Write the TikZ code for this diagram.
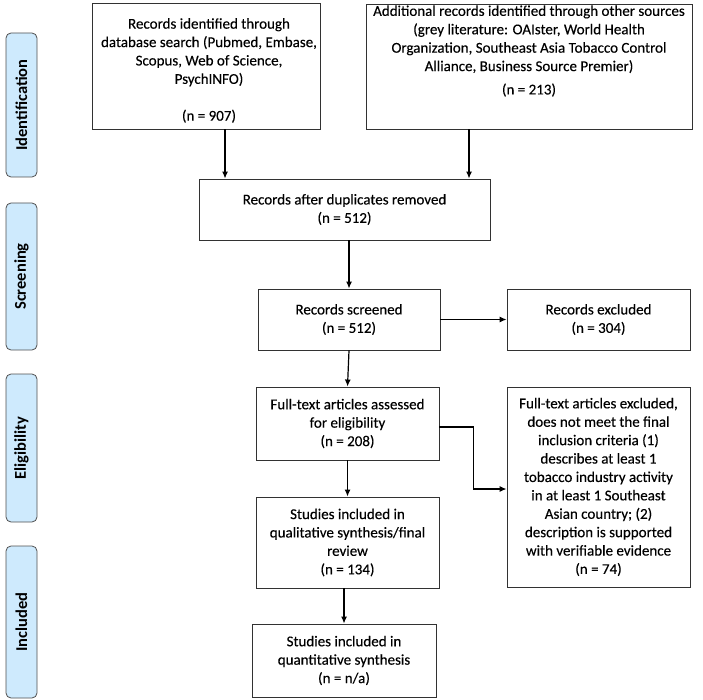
\documentclass[tikz,border=0pt]{standalone}
\usepackage{fontspec}
\setmainfont{Carlito}
\newfontfamily\boxfont{Carlito}[FakeBold=0.25]
\usetikzlibrary{arrows.meta,positioning,calc}
\definecolor{sidefill}{RGB}{206,234,253}
\definecolor{sidedraw}{RGB}{80,80,80}
\definecolor{boxdraw}{RGB}{50,50,50}
\begin{document}
\begin{tikzpicture}[x=1pt,y=-1pt,
  box/.style={draw=boxdraw,line width=0.9pt,rectangle,inner sep=0pt,align=center,
    font=\boxfont\fontsize{15}{18.4}\selectfont},
  txt/.style={inner sep=0pt,align=center,font=\boxfont\fontsize{15}{18.4}\selectfont},
  side/.style={draw=sidedraw,fill=sidefill,line width=0.8pt,rounded corners=5pt,
    rotate=90,minimum height=31pt,inner sep=0pt,font=\fontsize{16.5}{18}\selectfont\bfseries},
  arr/.style={line width=1.2pt,-{Latex[length=7pt,width=6pt]}}]
\useasboundingbox (0,0) rectangle (703,700);

% side labels
\node[side,minimum width=144pt] (sid) at (21.5,105) {Identification};
\node[side,minimum width=147pt] (ssc) at (21.5,276.5) {Screening};
\node[side,minimum width=148pt] (sel) at (21.5,448) {Eligibility};
\node[side,minimum width=152pt] (sin) at (21.5,622) {Included};

% boxes
\node[box,minimum width=228pt,minimum height=126pt] (b1) at (206,66) {};
\node[txt] (t1) at (209,70.5) {Records identified through\\database search (Pubmed, Embase,\\Scopus, Web of Science,\\PsychINFO)\\[18.4pt](n = 907)};
\node[box,minimum width=326pt,minimum height=125pt] (b2) at (529,66.5) {};
\node[txt] (t2) at (529,51) {Additional records identified through other sources\\(grey literature: OAIster, World Health\\Organization, Southeast Asia Tobacco Control\\Alliance, Business Source Premier)\\[5pt](n = 213)};
\node[box,minimum width=291pt,minimum height=61pt] (b3) at (344.5,209.5) {Records after duplicates removed\\(n = 512)};
\node[box,minimum width=182pt,minimum height=61pt] (b4) at (349,319.5) {Records screened\\(n = 512)};
\node[box,minimum width=183pt,minimum height=61pt] (e1) at (598.5,319.5) {Records excluded\\(n = 304)};
\node[box,minimum width=183pt,minimum height=73pt] (ft) at (347.5,423.5) {Full-text articles assessed\\for eligibility\\(n = 208)};
\node[box,minimum width=183pt,minimum height=200pt] (e2) at (598.5,487) {Full-text articles excluded,\\does not meet the final\\inclusion criteria (1)\\describes at least 1\\tobacco industry activity\\in at least 1 Southeast\\Asian country; (2)\\description is supported\\with verifiable evidence\\(n = 74)};
\node[box,minimum width=183pt,minimum height=91pt] (st) at (347.5,542.5) {Studies included in\\qualitative synthesis/final\\review\\(n = 134)};
\node[box,minimum width=184pt,minimum height=73pt] (qs) at (344,660.5) {Studies included in\\quantitative synthesis\\(n = n/a)};

% connectors
\draw[arr] ([xshift=19pt]b1.south) -- ([xshift=19pt]b1.south |- b3.north);
\draw[arr] ([xshift=-60pt]b2.south) -- ([xshift=-60pt]b2.south |- b3.north);
\draw[arr] (b3.south -| b4.north) -- (b4.north);
\draw[arr] (b4.east) -- (e1.west);
\draw[arr] (b4.south) -- (ft.north);
\draw[arr] (ft.south) -- (st.north);
\draw[arr] (st.south -| qs.north) -- (qs.north);
\draw[arr] ([yshift=-3.5pt]ft.east) -- ++(34,0) |- ([yshift=-2pt]e2.west);
\end{tikzpicture}
\end{document}
